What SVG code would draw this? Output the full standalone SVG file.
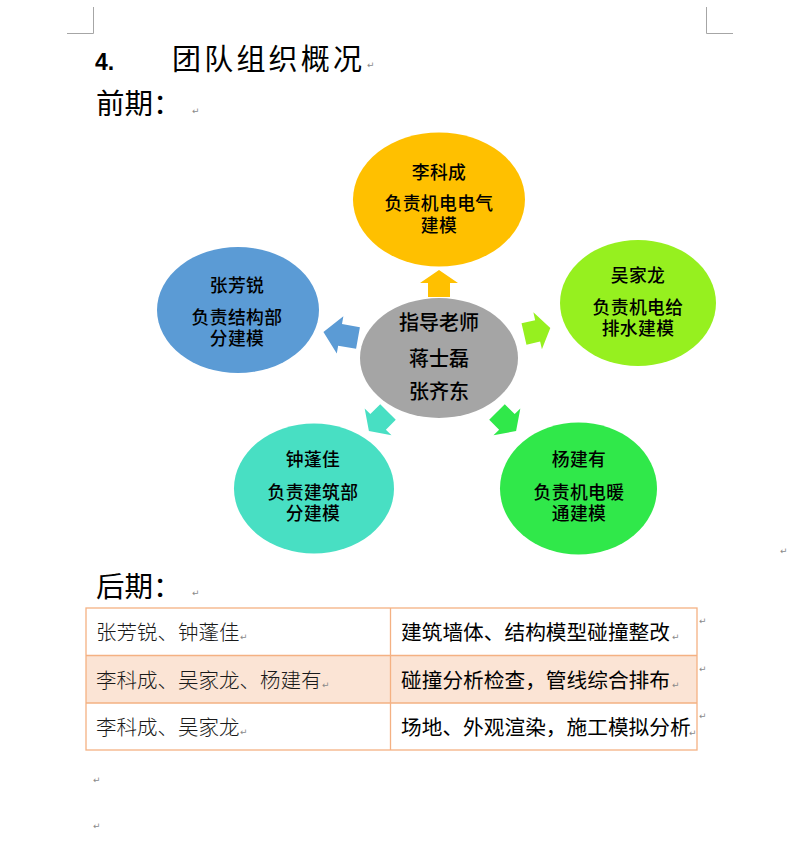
<svg xmlns="http://www.w3.org/2000/svg" xmlns:xlink="http://www.w3.org/1999/xlink" width="800" height="847" viewBox="0 0 800 847">
<style>
.cjk{font-family:'Noto Sans CJK SC','Noto Sans CJK JP',sans-serif;fill:#000}
.node{font-size:17.8px;text-anchor:middle;font-weight:500;letter-spacing:0.4px}
.center{font-size:20px;text-anchor:middle;font-weight:500}
.cell{font-size:20.7px}
.cellL{font-size:20.5px;font-weight:300;fill:#1a1a1a}
.mark{font-family:'DejaVu Sans',sans-serif;font-size:9px;fill:#8a8a8a}
.corner{stroke:#a6a6a6;stroke-width:1;fill:none}
.tb{stroke:#f4b183;stroke-width:1.3;fill:none}
</style>
<defs>
<polygon id="arr" points="0,-11 14,-11 14,-19 27,0 14,19 14,11 0,11"/>
</defs>
<rect width="800" height="847" fill="#ffffff"/>

<!-- page corner marks -->
<path class="corner" d="M93.5,7 V33.5 H67 M706.5,7 V33.5 H733"/>

<!-- headings -->
<text x="95" y="70" font-family="'Liberation Sans',Arial,sans-serif" font-weight="bold" font-size="23" fill="#000">4.</text>
<text class="cjk" x="172" y="70" font-size="29" letter-spacing="3.2">团队组织概况</text>
<text class="mark" x="367" y="68">↵</text>
<text class="cjk" x="96" y="114" font-size="28.5">前期：</text>
<text class="mark" x="192" y="114">↵</text>

<!-- connectors -->
<g id="connectors">
<use href="#arr" xlink:href="#arr" fill="#ffc000" transform="translate(439,297) rotate(-90)"/>
<use href="#arr" xlink:href="#arr" fill="#96f01f" transform="translate(524,334) rotate(-13)"/>
<use href="#arr" xlink:href="#arr" fill="#5b9bd5" transform="translate(358,338) rotate(190) scale(1.3,1)"/>
<use href="#arr" xlink:href="#arr" fill="#48dfc3" transform="translate(388,412) rotate(135)"/>
<use href="#arr" xlink:href="#arr" fill="#30e84a" transform="translate(497,412) rotate(45)"/>
</g>

<!-- nodes -->
<g id="node-li">
<ellipse cx="439" cy="199.5" rx="86" ry="67" fill="#ffc000"/>
<text class="cjk node" x="439" y="179">李科成</text>
<text class="cjk node" x="439" y="210">负责机电电气</text>
<text class="cjk node" x="439" y="231.5">建模</text>
</g>
<g id="node-wu">
<ellipse cx="638" cy="303" rx="78" ry="63" fill="#96f01f"/>
<text class="cjk node" x="638" y="282">吴家龙</text>
<text class="cjk node" x="638" y="313.5">负责机电给</text>
<text class="cjk node" x="638" y="335">排水建模</text>
</g>
<g id="node-zhang">
<ellipse cx="238" cy="310" rx="81" ry="63" fill="#5b9bd5"/>
<text class="cjk node" x="237" y="292">张芳锐</text>
<text class="cjk node" x="237" y="323.5">负责结构部</text>
<text class="cjk node" x="237" y="345">分建模</text>
</g>
<g id="node-center">
<ellipse cx="439" cy="358" rx="79" ry="60" fill="#a5a5a5"/>
<text class="cjk center" x="439" y="330">指导老师</text>
<text class="cjk center" x="439" y="366">蒋士磊</text>
<text class="cjk center" x="439" y="399">张齐东</text>
</g>
<g id="node-zhong">
<ellipse cx="314" cy="488.5" rx="80" ry="65" fill="#48dfc3"/>
<text class="cjk node" x="313" y="466">钟蓬佳</text>
<text class="cjk node" x="313" y="498.5">负责建筑部</text>
<text class="cjk node" x="313" y="520">分建模</text>
</g>
<g id="node-yang">
<ellipse cx="578.5" cy="488.5" rx="78.5" ry="66" fill="#30e84a"/>
<text class="cjk node" x="579" y="466">杨建有</text>
<text class="cjk node" x="579" y="498.5">负责机电暖</text>
<text class="cjk node" x="579" y="520">通建模</text>
</g>

<text class="mark" x="780" y="554">↵</text>

<!-- later phase -->
<text class="cjk" x="96" y="597" font-size="28.5">后期：</text>
<text class="mark" x="192" y="596">↵</text>

<g id="table">
<rect x="86" y="655.5" width="611" height="47.5" fill="#fbe4d5"/>
<rect class="tb" x="86" y="608" width="611" height="142"/>
<path class="tb" d="M86,655.5 H697 M86,703 H697 M390.5,608 V750"/>
<text class="cjk cellL" x="96" y="640">张芳锐、钟蓬佳</text>
<text class="mark" x="240" y="640">↵</text>
<text class="cjk cellL" x="96" y="688">李科成、吴家龙、杨建有</text>
<text class="mark" x="322" y="688">↵</text>
<text class="cjk cellL" x="96" y="735">李科成、吴家龙</text>
<text class="mark" x="240" y="735">↵</text>
<text class="cjk cell" x="401" y="640">建筑墙体、结构模型碰撞整改</text>
<text class="mark" x="672" y="640">↵</text>
<text class="cjk cell" x="401" y="688">碰撞分析检查，管线综合排布</text>
<text class="mark" x="672" y="688">↵</text>
<text class="cjk cell" x="401" y="735">场地、外观渲染，施工模拟分析</text>
<text class="mark" x="689" y="736">↵</text>
<text class="mark" x="699" y="624">↵</text>
<text class="mark" x="699" y="672">↵</text>
<text class="mark" x="699" y="719">↵</text>
</g>

<text class="mark" x="93" y="783">↵</text>
<text class="mark" x="93" y="829">↵</text>
</svg>
